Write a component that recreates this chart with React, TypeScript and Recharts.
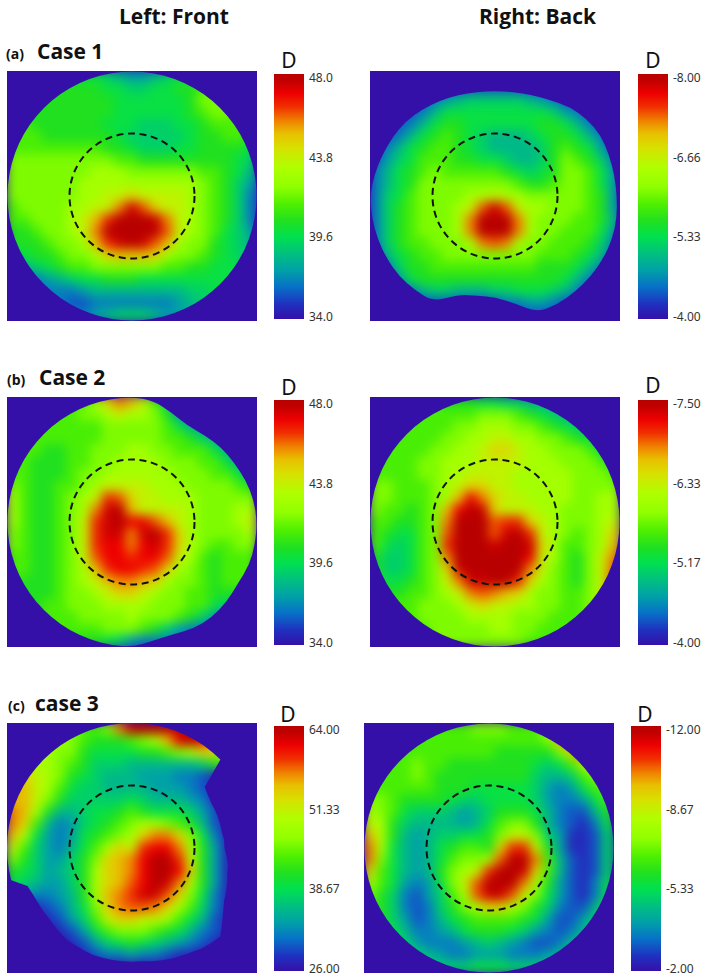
import React from 'react';
import { BarChart, Bar, XAxis, YAxis, ScatterChart, Scatter, ReferenceDot } from 'recharts';

// colour bar stops, bottom to top
const barStops: [number, string][] = [
  [0, '#3510a8'], [0.06, '#2030c0'], [0.13, '#0870c8'], [0.198, '#00a0a8'], [0.266, '#00c080'],
  [0.334, '#00e050'], [0.4, '#20e020'], [0.47, '#50f000'], [0.54, '#90ff00'], [0.62, '#b0ff00'],
  [0.7, '#d8e000'], [0.757, '#e8c000'], [0.81, '#f08000'], [0.866, '#f03000'], [0.92, '#ee0000'],
  [0.975, '#c00000'], [1, '#b80000'],
];

// the 21 reading steps used in the maps below, as positions on the colour bar
const readingSteps = [0, 0.05, 0.1, 0.15, 0.2, 0.25, 0.3, 0.35, 0.4, 0.46, 0.52, 0.59, 0.65, 0.72, 0.76, 0.81, 0.84, 0.875, 0.92, 0.96, 1];

// surface maps: reading step per cell, 0 = bottom of the bar, 20 = top
const case1Front = [
  [8,8,8,8,8,8,7,7,6,5,4,4,5,6,7,7,8,8,8,8,8],
  [8,8,8,8,8,8,8,8,7,7,6,6,7,7,8,8,9,9,9,9,9],
  [8,8,8,8,8,8,8,8,8,7,7,7,7,7,7,8,10,10,9,9,9],
  [8,8,8,8,8,8,8,8,8,7,7,7,7,7,7,8,9,10,10,9,9],
  [9,9,8,8,8,8,8,8,7,7,7,6,6,6,7,7,8,9,9,9,9],
  [9,9,9,8,8,8,8,8,8,7,6,6,6,6,6,7,8,8,9,9,8],
  [9,9,9,9,9,9,9,9,8,8,7,6,6,6,7,7,8,8,8,8,7],
  [10,10,10,10,10,10,10,10,10,9,9,8,8,8,8,8,8,8,8,7,6],
  [10,10,10,10,10,10,10,11,11,11,10,10,10,10,10,10,9,9,8,7,5],
  [10,10,10,10,10,10,11,11,11,11,11,11,11,11,11,11,10,9,8,6,4],
  [10,10,10,10,10,10,11,11,12,12,13,12,12,12,12,11,10,9,8,6,3],
  [9,10,10,10,10,11,11,12,12,15,19,16,13,12,12,11,10,9,8,6,3],
  [9,9,10,10,10,11,12,14,17,20,20,20,19,15,12,11,10,9,8,6,3],
  [8,8,9,10,10,11,12,15,20,20,20,20,20,16,12,11,10,9,7,6,4],
  [8,8,8,9,10,10,11,14,17,19,20,19,16,14,11,10,10,8,7,6,5],
  [6,7,8,8,9,10,10,11,13,14,14,14,13,11,10,10,9,8,7,6,6],
  [4,5,6,7,8,9,9,10,10,10,10,10,10,9,9,8,8,7,7,7,7],
  [3,3,3,4,5,6,7,7,8,8,8,7,7,7,7,7,7,7,7,7,7],
  [3,3,3,3,3,3,4,5,5,5,5,5,5,5,5,6,6,7,7,7,7],
  [3,3,3,3,3,2,2,3,3,3,3,3,3,3,4,5,6,7,7,7,7],
  [3,3,3,3,3,3,3,4,5,6,6,6,5,4,4,5,6,7,7,7,7],
];
const case1Back = [
  [2,2,2,2,2,2,2,2,2,2,2,2,2,2,2,2,2,2,2,2,2],
  [2,2,2,2,2,2,2,2,2,2,2,2,2,2,2,2,2,2,2,2,2],
  [2,2,2,2,2,3,4,5,6,6,6,6,6,5,4,3,2,2,2,2,2],
  [2,2,2,2,3,5,7,7,7,7,7,7,7,7,7,6,4,3,2,2,2],
  [2,2,2,3,5,7,8,8,7,7,7,7,7,7,8,8,7,5,3,2,2],
  [2,2,3,5,7,8,9,8,7,6,5,5,5,6,7,8,8,7,5,3,2],
  [2,3,5,7,8,9,9,8,7,6,5,5,5,5,6,8,9,8,7,4,2],
  [2,4,6,7,9,9,9,8,8,7,7,6,5,5,6,8,10,9,8,6,3],
  [3,5,7,8,9,10,9,9,9,9,9,8,7,6,7,8,10,10,9,7,4],
  [3,5,7,8,10,10,10,10,10,10,10,10,9,8,8,9,10,10,9,7,4],
  [3,6,7,9,10,10,10,10,11,11,12,11,11,10,10,10,10,10,9,8,4],
  [3,6,8,9,10,10,10,11,12,16,19,16,12,11,11,10,10,10,9,8,4],
  [3,6,8,9,10,10,10,11,15,20,20,20,15,11,10,10,10,9,9,8,5],
  [3,6,8,9,10,10,10,11,15,20,20,20,15,11,10,10,9,9,9,7,4],
  [3,6,8,9,9,10,10,10,11,15,16,15,11,10,10,9,9,9,8,6,3],
  [2,5,7,8,9,9,10,10,10,10,10,10,10,10,9,9,9,8,7,5,2],
  [2,3,6,8,8,9,9,9,9,9,9,9,9,9,8,8,8,7,5,3,2],
  [2,2,4,7,8,8,8,8,8,8,8,8,8,8,8,8,7,5,3,2,2],
  [2,2,2,3,5,6,6,5,5,5,6,6,7,7,7,6,5,3,2,2,2],
  [2,2,2,2,2,2,2,2,2,2,2,3,3,4,4,3,2,2,2,2,2],
  [2,2,2,2,2,2,2,2,2,2,2,2,2,2,2,2,2,2,2,2,2],
];
const case2Front = [
  [9,9,9,9,9,9,9,11,13,15,14,12,9,6,3,3,3,3,3,3,3],
  [9,9,9,9,9,9,10,10,11,12,11,11,10,8,4,3,3,3,3,3,3],
  [9,9,9,9,9,9,9,9,10,10,10,10,10,9,7,5,4,3,3,3,3],
  [9,9,9,9,9,9,9,9,10,10,10,10,10,9,9,8,6,5,3,3,3],
  [9,9,9,8,8,9,9,10,10,10,11,11,10,10,9,9,9,7,5,3,3],
  [9,9,8,8,8,9,9,10,10,11,11,11,11,10,10,10,9,9,7,5,3],
  [9,9,8,8,8,9,10,10,11,11,11,11,11,11,10,10,10,9,9,7,5],
  [10,9,8,8,9,9,10,11,12,12,12,12,11,11,11,10,10,10,10,9,8],
  [11,9,8,8,9,10,11,12,17,16,13,12,12,11,11,11,10,10,10,10,10],
  [11,9,8,8,9,10,11,15,19,20,14,12,12,12,12,11,10,10,10,11,11],
  [11,9,8,8,9,10,12,17,19,20,18,18,16,14,12,11,10,10,10,11,12],
  [10,9,8,8,9,10,12,17,19,19,15,19,20,17,13,11,10,10,10,10,11],
  [10,9,8,8,9,10,12,17,18,18,15,18,19,17,13,11,10,9,9,10,10],
  [9,9,8,8,9,10,12,16,18,18,17,18,18,16,12,11,9,8,9,9,9],
  [9,9,8,8,9,10,11,14,17,18,18,17,16,13,11,10,9,8,9,9,9],
  [9,8,8,8,9,10,11,12,14,15,15,14,13,11,10,10,9,8,9,9,9],
  [8,8,8,8,9,10,10,11,12,13,13,12,11,10,10,9,9,8,8,8,8],
  [8,8,8,9,9,10,10,10,11,11,11,11,10,10,10,9,9,7,6,5,4],
  [8,8,8,9,9,9,10,10,10,10,11,10,10,10,9,8,6,4,3,3,3],
  [8,8,8,8,9,9,9,9,10,10,10,9,8,6,4,3,3,3,3,3,3],
  [8,8,8,8,8,8,8,8,7,6,4,3,3,3,3,3,3,3,3,3,3],
];
const case2Back = [
  [9,9,9,9,9,9,8,8,8,7,7,6,6,5,5,4,4,4,4,4,4],
  [9,9,9,9,9,9,9,9,9,10,10,10,9,8,7,6,5,4,4,4,4],
  [9,9,9,9,9,9,9,10,10,11,11,11,10,10,9,8,7,6,4,4,4],
  [9,9,9,9,9,9,10,10,11,11,12,12,11,11,10,10,9,8,7,5,4],
  [9,9,9,9,9,10,10,11,11,12,13,13,12,11,11,10,10,10,9,7,5],
  [9,9,9,9,10,10,11,11,11,12,12,12,12,11,11,11,10,10,10,9,7],
  [9,9,9,9,10,10,11,11,12,12,12,12,11,11,11,11,11,10,10,10,9],
  [10,10,9,9,9,10,11,12,13,13,12,12,11,11,11,11,11,10,10,10,10],
  [10,10,9,9,9,10,11,14,18,15,13,12,12,11,11,11,11,10,10,11,11],
  [10,9,9,8,9,10,14,18,20,19,13,12,12,12,11,11,10,10,10,11,11],
  [9,9,8,8,9,10,15,20,20,20,16,17,17,13,12,11,10,10,10,11,12],
  [9,8,7,7,9,10,16,20,20,20,16,19,20,17,12,11,10,9,10,11,13],
  [9,7,6,7,9,10,17,20,20,20,19,20,20,19,13,11,9,9,10,11,14],
  [8,6,6,7,9,10,15,20,20,20,20,20,20,18,12,11,9,8,10,12,15],
  [8,6,6,7,9,10,13,19,20,20,20,20,20,15,12,10,9,8,10,12,16],
  [8,7,7,8,9,10,12,15,19,19,20,20,17,13,11,10,9,8,10,12,16],
  [9,8,8,9,9,10,11,12,15,16,15,14,13,11,10,10,9,9,10,12,16],
  [9,9,9,9,10,10,10,11,12,13,12,12,11,11,10,10,9,9,10,11,14],
  [9,9,9,9,10,10,10,10,11,11,11,11,10,10,10,9,9,9,10,11,12],
  [9,9,9,9,9,10,10,10,10,10,11,11,10,10,9,9,9,9,9,10,10],
  [9,9,9,9,9,10,10,10,10,10,10,10,10,9,9,9,9,9,9,9,9],
];
const case3Front = [
  [11,11,11,11,11,10,9,9,10,15,19,20,20,20,20,20,20,16,9,7,5],
  [11,11,11,11,11,10,9,8,8,8,9,10,11,14,18,20,18,14,9,7,5],
  [11,11,11,11,10,10,8,7,7,7,7,8,8,9,10,11,13,13,10,7,4],
  [12,12,11,11,10,9,8,6,6,6,5,5,5,5,5,5,6,8,9,7,3],
  [13,13,12,11,10,8,7,6,5,5,5,4,4,4,3,3,2,1,0,0,0],
  [14,14,12,11,9,7,6,6,5,5,5,5,4,4,4,3,2,1,0,0,0],
  [14,14,12,10,8,6,6,6,6,6,7,6,5,5,5,4,3,1,0,0,0],
  [15,14,11,8,5,5,6,7,7,8,9,8,7,7,7,6,4,2,0,0,0],
  [15,13,9,5,3,4,6,7,8,9,10,11,11,10,9,8,5,2,1,0,0],
  [14,11,7,4,3,4,7,8,9,10,11,13,15,15,13,10,7,3,1,0,0],
  [12,9,6,4,3,5,7,9,11,13,12,17,18,18,15,11,8,4,1,0,0],
  [10,8,6,4,4,6,8,10,13,14,15,18,20,20,17,12,8,4,1,0,0],
  [8,7,6,4,5,6,8,11,13,14,15,18,20,20,18,13,8,4,1,0,0],
  [7,6,5,4,4,6,8,11,13,14,16,18,20,19,15,11,8,4,1,0,0],
  [5,4,3,3,4,5,8,11,14,15,17,19,19,16,13,10,7,3,1,0,0],
  [1,1,1,2,3,5,7,10,13,15,16,16,15,13,11,9,6,3,1,0,0],
  [0,0,0,1,2,4,6,9,12,13,13,12,12,11,9,7,5,2,1,0,0],
  [0,0,0,0,1,2,4,7,9,10,10,10,9,8,7,5,3,2,1,0,0],
  [0,0,0,0,0,1,2,4,6,7,8,7,6,5,4,3,2,1,0,0,0],
  [0,0,0,0,0,0,1,2,3,3,4,3,3,2,1,1,0,0,0,0,0],
  [0,0,0,0,0,0,0,0,0,0,0,0,0,0,0,0,0,0,0,0,0],
];
const case3Back = [
  [8,8,8,8,9,9,9,9,9,10,10,10,9,9,9,11,13,13,13,13,13],
  [8,8,8,8,9,9,9,9,9,9,9,9,9,9,9,10,14,16,16,14,13],
  [9,9,9,9,9,9,9,9,9,9,9,8,8,8,8,8,10,13,16,13,12],
  [9,9,9,9,10,9,9,8,8,8,8,8,8,8,7,6,7,9,12,11,10],
  [9,9,9,9,10,9,8,8,8,8,8,8,8,8,6,5,5,6,9,10,10],
  [9,9,9,9,9,9,8,8,8,7,7,7,7,7,6,4,3,4,7,9,9],
  [10,10,9,8,8,8,8,7,6,6,7,7,7,7,6,4,3,3,4,7,9],
  [11,10,9,7,6,6,6,5,4,5,6,8,8,8,7,5,3,2,2,5,8],
  [12,11,8,6,5,5,5,5,4,5,7,9,10,10,8,5,3,2,1,3,7],
  [14,11,8,5,4,5,6,6,7,7,8,10,12,12,10,6,4,1,1,2,6],
  [15,11,7,5,4,5,7,8,9,9,8,13,17,17,12,8,4,1,1,2,6],
  [15,10,7,5,4,5,7,9,10,10,11,16,20,20,15,9,5,2,1,2,6],
  [13,9,7,5,4,5,8,10,11,12,17,20,20,19,13,9,5,2,1,2,6],
  [11,9,7,4,3,4,7,10,12,16,20,20,20,15,11,8,4,2,1,3,7],
  [10,8,6,3,2,4,6,9,11,16,19,19,16,12,10,7,4,2,1,3,7],
  [9,8,6,3,2,3,6,8,10,11,13,13,11,10,8,6,3,2,2,5,8],
  [9,8,6,4,2,3,5,7,8,9,9,9,9,8,7,4,2,2,4,6,8],
  [9,8,7,5,3,3,4,5,7,8,8,8,7,6,4,3,2,3,5,7,8],
  [8,8,7,6,4,3,3,3,4,5,6,5,4,3,2,2,3,5,7,8,8],
  [8,8,8,7,6,5,4,3,3,4,4,4,3,3,3,4,5,7,8,8,8],
  [8,8,8,8,7,6,6,6,6,7,7,7,6,6,6,6,7,8,8,8,8],
];

// map outlines: radius (1 = full disc) at even steps clockwise from 12 o'clock
const fullDisc = [1, 1, 1, 1, 1, 1, 1, 1, 1, 1, 1, 1, 1, 1, 1, 1, 1, 1, 1, 1, 1, 1, 1, 1, 1, 1, 1, 1, 1, 1, 1, 1, 1, 1, 1, 1];
const case1BackOutline = [.84,.845,.86,.885,.93,.96,.975,.97,.97,.975,.99,1,1,1,1,1,.99,.87,.81,.81,.84,.975,.99,1,1,1,1,1,.98,.96,.945,.93,.905,.88,.86,.845];
const case2FrontOutline = [1,.985,.93,.89,.905,.93,.945,.97,.99,1,1,1,.98,.99,.995,.985,.955,.965,1,1,1,1,1,1,1,1,1,1,1,1,1,1,1,1,1,1];
const case3FrontOutline = [1,1,1,1,1,1,1,1,1,1,.76,.74,.73,.73,.73,.73,.73,.74,.74,.76,.78,.79,.81,.83,.85,.89,.94,1,.99,.98,.96,.95,.94,.93,.92,.91,.91,.91,.91,.91,.91,.905,.9,.9,.89,.88,.87,.87,.87,.875,.89,1,1,1,1,1,1,1,1,1,1,1,1,1,1,1,1,1,1,1,1,1];

const GRID_MAX = 20;
const OUTSIDE = barStops[0][1];

const barColor = (t: number) => {
  for (let i = 1; i < barStops.length; i++) {
    const [t0, c0] = barStops[i - 1];
    const [t1, c1] = barStops[i];
    if (t <= t1) {
      const k = (t - t0) / (t1 - t0);
      const mix = (at: number) => {
        const a = parseInt(c0.slice(at, at + 2), 16);
        const b = parseInt(c1.slice(at, at + 2), 16);
        return Math.round(a + (b - a) * k);
      };
      return `rgb(${mix(1)},${mix(3)},${mix(5)})`;
    }
  }
  return barStops[barStops.length - 1][1];
};

const toCells = (levels: number[][]) =>
  levels.flatMap((row, y) => row.map((level, x) => ({ x, y, level })));

const toMaskPoints = (outline: number[]) => {
  const edge = GRID_MAX + 0.5;
  const half = GRID_MAX / 2 + 0.5;
  const rim = outline.map((r, i) => {
    const a = (i / outline.length) * 2 * Math.PI;
    return { x: GRID_MAX / 2 + half * r * Math.sin(a), y: GRID_MAX / 2 - half * r * Math.cos(a) };
  });
  return [{ x: -0.5, y: -0.5 }, { x: edge, y: -0.5 }, { x: edge, y: edge }, { x: -0.5, y: edge }, ...rim];
};

// evenodd path: everything between the square and the outline stays indigo
const maskPath = (smooth: boolean) => (props: any) => {
  const pts = props.points;
  const square = pts.slice(0, 4);
  const rim = pts.slice(4);
  const straight = (list: any[]) => 'M' + list.map((p) => `${p.x},${p.y}`).join('L') + 'Z';
  const rounded = (list: any[]) => {
    const mid = (a: any, b: any) => `${(a.x + b.x) / 2},${(a.y + b.y) / 2}`;
    let d = 'M' + mid(list[list.length - 1], list[0]);
    list.forEach((p, i) => {
      d += `Q${p.x},${p.y} ${mid(p, list[(i + 1) % list.length])}`;
    });
    return d + 'Z';
  };
  return <path d={straight(square) + (smooth ? rounded(rim) : straight(rim))} fill={OUTSIDE} fillRule="evenodd" stroke="none" />;
};

const SurfaceMap = ({ left, top, size, levels, outline, sharp }: any) => {
  const cell = size / (GRID_MAX + 1);
  const HeatCell = (p: any) => (
    <rect x={p.cx - cell / 2 - 0.5} y={p.cy - cell / 2 - 0.5} width={cell + 1} height={cell + 1} fill={barColor(readingSteps[p.payload.level])} />
  );
  return (
    <div style={{ position: 'absolute', left, top, background: OUTSIDE }}>
      <ScatterChart width={size} height={size} margin={{ top: 0, right: 0, bottom: 0, left: 0 }}>
        <XAxis type="number" dataKey="x" domain={[-0.5, GRID_MAX + 0.5]} hide />
        <YAxis type="number" dataKey="y" domain={[-0.5, GRID_MAX + 0.5]} reversed hide />
        <Scatter className="heat" data={toCells(levels)} shape={HeatCell} isAnimationActive={false} />
        <Scatter data={toMaskPoints(outline)} line={maskPath(!sharp)} shape={() => null} isAnimationActive={false} />
        <ReferenceDot x={GRID_MAX / 2} y={GRID_MAX / 2} r={size / 4} fill="none" stroke="#111" strokeWidth={2} strokeDasharray="7 4.6" ifOverflow="visible" />
      </ScatterChart>
    </div>
  );
};

const ColorBar = ({ id, left, top, labels }: any) => {
  const gradId = `bar-${id}`;
  // tick labels sit at even steps, not on a numeric scale
  const positions = labels.map((_: string, i: number) => i);
  const span = [-0.05, labels.length - 1 + 0.03];
  return (
    <div style={{ position: 'absolute', left, top: top - 8 }}>
      <BarChart width={84} height={261} data={[{ name: id, span }]} barCategoryGap={0} margin={{ top: 8, right: 0, bottom: 8, left: 0 }}>
        <defs>
          <linearGradient id={gradId} x1="0" y1="1" x2="0" y2="0">
            {barStops.map(([t, c]) => <stop key={t} offset={t} stopColor={c} />)}
          </linearGradient>
        </defs>
        <XAxis dataKey="name" hide />
        <YAxis
          orientation="right"
          type="number"
          width={54}
          reversed
          domain={span}
          ticks={positions}
          interval={0}
          allowDataOverflow
          axisLine={false}
          tickLine={false}
          tickSize={0}
          tickMargin={5}
          tickFormatter={(v: number) => labels[v]}
          tick={{ fontSize: 12, fill: '#333', fontFamily: 'Noto Sans', textAnchor: 'start' }}
        />
        <Bar dataKey="span" fill={`url(#${gradId})`} isAnimationActive={false} />
      </BarChart>
    </div>
  );
};

const titleFont = { fontFamily: 'Open Sans', fontWeight: 700, fill: '#111' };

export default function App() {
  return (
    <div style={{ position: 'absolute', left: 0, top: 0, width: 708, height: 980, background: '#fff', overflow: 'hidden' }}>
      <style>{'.heat{filter:blur(5.5px)}'}</style>
      <svg width={708} height={980} style={{ position: 'absolute', left: 0, top: 0 }}>
        <text x={119} y={24} fontSize={21} {...titleFont}>Left: Front</text>
        <text x={479} y={24} fontSize={21} {...titleFont}>Right: Back</text>

        <text x={6} y={59} fontSize={14} {...titleFont}>(a)</text>
        <text x={37} y={59} fontSize={21} {...titleFont}>Case 1</text>
        <text x={7} y={385} fontSize={14} {...titleFont}>(b)</text>
        <text x={39} y={385} fontSize={21} {...titleFont}>Case 2</text>
        <text x={8} y={711} fontSize={14} {...titleFont}>(c)</text>
        <text x={35} y={711} fontSize={21} {...titleFont}>case 3</text>

        <g fontFamily="Noto Sans" fontSize={21} fill="#111" textAnchor="middle">
          <text x={289} y={68}>D</text>
          <text x={653} y={68}>D</text>
          <text x={289} y={395}>D</text>
          <text x={653} y={393}>D</text>
          <text x={288} y={722}>D</text>
          <text x={645} y={722}>D</text>
        </g>
      </svg>

      <SurfaceMap left={6.5} top={70.5} size={250} levels={case1Front} outline={fullDisc} />
      <SurfaceMap left={370} top={71} size={250} levels={case1Back} outline={case1BackOutline} />
      <SurfaceMap left={6.5} top={397} size={250} levels={case2Front} outline={case2FrontOutline} />
      <SurfaceMap left={370} top={397} size={250} levels={case2Back} outline={fullDisc} />
      <SurfaceMap left={6.5} top={723} size={250} levels={case3Front} outline={case3FrontOutline} sharp />
      <SurfaceMap left={363.5} top={723} size={250} levels={case3Back} outline={fullDisc} />

      <ColorBar id="a1" left={274} top={74} labels={['48.0', '43.8', '39.6', '34.0']} />
      <ColorBar id="a2" left={638} top={74} labels={['-8.00', '-6.66', '-5.33', '-4.00']} />
      <ColorBar id="b1" left={274} top={400} labels={['48.0', '43.8', '39.6', '34.0']} />
      <ColorBar id="b2" left={638} top={400} labels={['-7.50', '-6.33', '-5.17', '-4.00']} />
      <ColorBar id="c1" left={274} top={726} labels={['64.00', '51.33', '38.67', '26.00']} />
      <ColorBar id="c2" left={631} top={726} labels={['-12.00', '-8.67', '-5.33', '-2.00']} />
    </div>
  );
}
